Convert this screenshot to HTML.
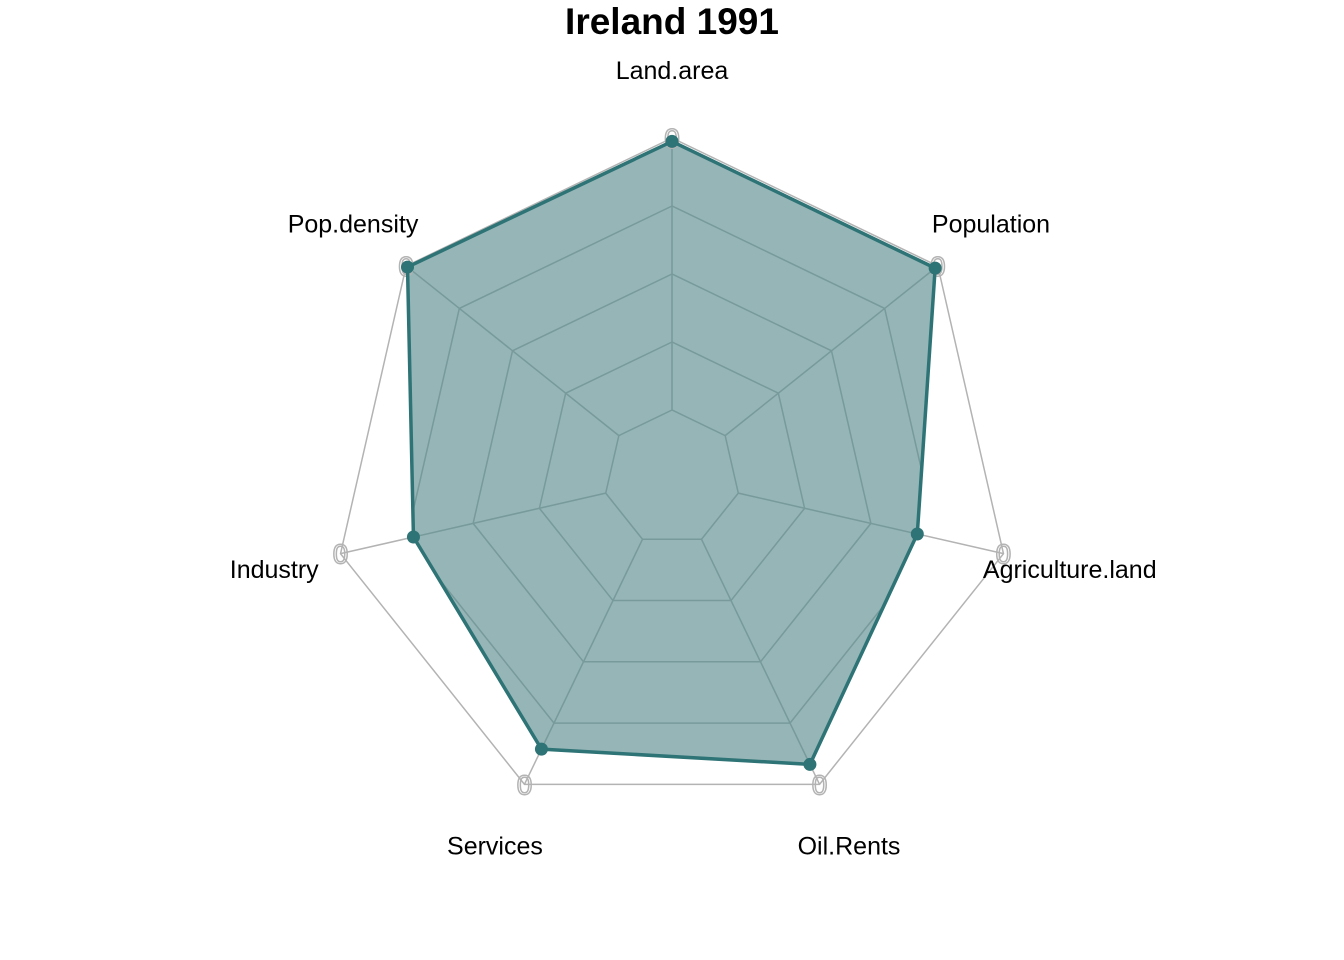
<!DOCTYPE html>
<html><head><meta charset="utf-8"><style>
body{margin:0;background:#fff}
svg{display:block;font-family:"Liberation Sans",Arial,sans-serif}
</style></head><body>
<svg id="chart" width="1344" height="960" viewBox="0 0 1344 960" xmlns="http://www.w3.org/2000/svg">
<text x="672" y="34" text-anchor="middle" font-size="37" font-weight="bold">Ireland 1991</text>
<g id="g"></g>
</svg>
<script>
const categories = ["Land.area","Pop.density","Industry","Services","Oil.Rents","Agriculture.land","Population"];
const values = [0.99, 0.995, 0.78, 0.885, 0.935, 0.74, 0.99];
const gridLevels = [0.2, 0.4, 0.6, 0.8, 1.0];
const axisLabel = "0";

const cx = 672, cy = 478, R = 340, NS = "http://www.w3.org/2000/svg";
const g = document.getElementById('g');
function ang(i){ return Math.PI/2 + i*2*Math.PI/categories.length; }
function pt(i, r){ return [cx + R*r*Math.cos(ang(i)), cy - R*r*Math.sin(ang(i))]; }
function mk(tag, attrs){ const e = document.createElementNS(NS, tag); for (const k in attrs) e.setAttribute(k, attrs[k]); g.appendChild(e); return e; }
function poly(r){ return categories.map((c,i)=>pt(i, typeof r==='number'? r : r[i]).join(',')).join(' '); }

const defs = mk('defs', {});
const cp = document.createElementNS(NS, 'clipPath'); cp.setAttribute('id','clip'); defs.appendChild(cp);
const cpp = document.createElementNS(NS, 'polygon'); cpp.setAttribute('points', poly(values)); cp.appendChild(cpp);

const outer = mk('polygon', {points: poly(1), fill:'none', stroke:'#b3b3b3', 'stroke-width':1.5});


categories.forEach((c,i)=>{
  const p = pt(i,1), q = pt(i,gridLevels[0]);
  const a = mk('line', {x1:q[0], y1:q[1], x2:p[0], y2:p[1], stroke:'#b3b3b3', 'stroke-width':1.5});
  
  
});

const fill = mk('polygon', {points: poly(values), fill:'#95b5b7', stroke:'none'});



const gg = mk('g', {'clip-path':'url(#clip)'});
gridLevels.forEach(l=>{
  const e = document.createElementNS(NS,'polygon');
  e.setAttribute('points', poly(l)); e.setAttribute('fill','none'); e.setAttribute('stroke','#789a9b'); e.setAttribute('stroke-width','1.5');
  
  
  gg.appendChild(e);
});
categories.forEach((c,i)=>{
  const p = pt(i,1), q = pt(i,gridLevels[0]);
  const e = document.createElementNS(NS,'line');
  e.setAttribute('x1',q[0]); e.setAttribute('y1',q[1]); e.setAttribute('x2',p[0]); e.setAttribute('y2',p[1]);
  e.setAttribute('stroke','#789a9b'); e.setAttribute('stroke-width','1.5');
  
  
  gg.appendChild(e);
});

categories.forEach((c,i)=>{
  const p = pt(i,1);
  const t = mk('text', {x:p[0], y:p[1]+10, 'text-anchor':'middle', 'font-size':28, fill:'none', stroke:'#b3b3b3', 'stroke-width':1.5});
  t.textContent = axisLabel;
  
  
});

const line = mk('polygon', {points: poly(values), fill:'none', stroke:'#2e7375', 'stroke-width':3.5, 'stroke-linejoin':'round'});


values.forEach((v,i)=>{
  const p = pt(i,v);
  const c = mk('circle', {cx:p[0], cy:p[1], r:6.5, fill:'#2e7375'});
  
  
});

categories.forEach((c,i)=>{
  const p = pt(i,1.2);
  const t = mk('text', {x:p[0], y:p[1]+9, 'text-anchor':'middle', 'font-size':25, fill:'#000'});
  t.textContent = c;
  
  
});
</script>
</body></html>
